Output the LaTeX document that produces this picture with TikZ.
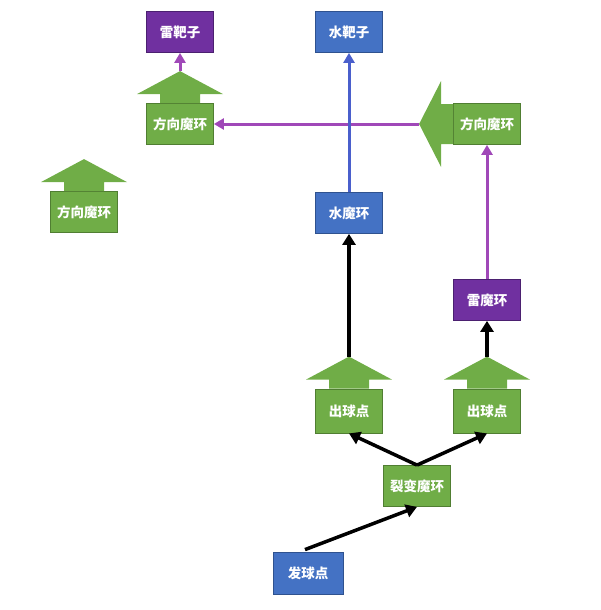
\documentclass[tikz,border=0pt]{standalone}
\usepackage{fontspec}
\newfontfamily\cjk{Noto Sans CJK SC}
\usetikzlibrary{calc,arrows.meta}
\definecolor{ringgreen}{HTML}{70AD47}
\definecolor{ringgreenb}{HTML}{507E32}
\definecolor{ringblue}{HTML}{4472C4}
\definecolor{ringblueb}{HTML}{2F528F}
\definecolor{ringpurple}{HTML}{7030A0}
\definecolor{ringpurpleb}{HTML}{4B2070}
\definecolor{linepurple}{HTML}{A048B8}
\definecolor{lineblue}{HTML}{4A5FCC}
\begin{document}
\begin{tikzpicture}[x=1pt,y=-1pt]
\tikzstyle{box}=[draw, line width=0.8pt, text=white, inner sep=0pt, minimum width=67pt, minimum height=41pt, font=\cjk\fontsize{13.5}{15}\selectfont\bfseries]
\tikzstyle{gbox}=[box, fill=ringgreen, draw=ringgreenb]
\tikzstyle{bbox}=[box, fill=ringblue, draw=ringblueb]
\tikzstyle{pbox}=[box, fill=ringpurple, draw=ringpurpleb]
\tikzstyle{blk}=[line width=3.5pt, -{Triangle[length=11pt,width=13pt]}]
\tikzstyle{prp}=[line width=3pt, draw=linepurple, -{Triangle[length=10pt,width=11pt]}, color=linepurple]
\tikzstyle{blu}=[line width=3pt, draw=lineblue, -{Triangle[length=10pt,width=11pt]}, color=lineblue]
\tikzstyle{blockarr}=[fill=ringgreen]

\useasboundingbox (0,0) rectangle (600,610);

% targets
\node[pbox] (leiba) at (180,32) {雷靶子};
\node[bbox] (shuiba) at (349,32) {水靶子};

% rings
\node[gbox] (fx1) at (180,124) {方向魔环};
\node[gbox] (fx2) at (84,212) {方向魔环};
\node[gbox] (fx3) at (487,124) {方向魔环};
\node[bbox] (shuimo) at (349,213) {水魔环};
\node[pbox] (leimo) at (487,300) {雷魔环};
\node[gbox, minimum height=44pt] (chu1) at (349,411) {出球点};
\node[gbox, minimum height=44pt] (chu2) at (487,411) {出球点};
\node[gbox] (liebian) at (417,486) {裂变魔环};
\node[bbox, minimum width=70pt, minimum height=42pt] (fa) at (308,573) {发球点};

% direction arrows on the boxes
\foreach \n in {fx1,fx2,chu1,chu2}{
  \fill[blockarr] ($(\n.north)+(-20,0)$) -- ++(0,-9) -- ++(-23,0) -- ($(\n.north)+(0,-32)$)
    -- ($(\n.north)+(43,-9)$) -- ++(-23,0) -- ($(\n.north)+(20,0)$) -- cycle;
  \coordinate (\n-tip) at ($(\n.north)+(0,-32)$);
}
\fill[blockarr] ($(fx3.west)+(0,-20)$) -- ++(-12,0) -- ++(0,-23) -- ($(fx3.west)+(-34,0)$)
  -- ($(fx3.west)+(-12,43)$) -- ++(0,-23) -- ($(fx3.west)+(0,20)$) -- cycle;
\coordinate (fx3-tip) at ($(fx3.west)+(-34,0)$);

% connectors
\draw[prp] (fx1-tip) -- (leiba.south);
\draw[prp] (fx3-tip) -- (fx1.east);
\draw[prp] (leimo.north) -- (fx3.south);
\draw[blu] (shuimo.north) -- (shuiba.south);
\draw[blk] (chu1-tip) -- (shuimo.south);
\draw[blk] (chu2-tip) -- (leimo.south);
\draw[blk] (liebian.north) -- (chu1.south);
\draw[blk] (liebian.north) -- (chu2.south);
\draw[blk] ($(fa.north)+(-3,-2)$) -- (liebian.south);
\end{tikzpicture}
\end{document}
